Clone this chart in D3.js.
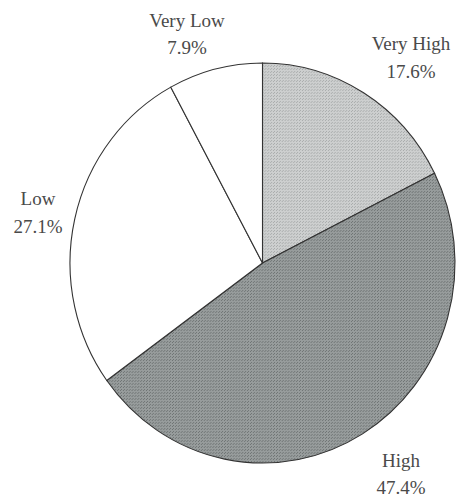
<!DOCTYPE html>
<html><head><meta charset="utf-8">
<script src="https://cdn.jsdelivr.net/npm/d3@7"></script>
<style>body{margin:0;background:#fff}svg{display:block}</style>
</head><body><svg id="c" width="459" height="499"></svg>
<script>
const categories = ["Very High", "High", "Low", "Very Low"];
const values = [17.6, 47.4, 27.1, 7.9];
const labels = ["17.6%", "47.4%", "27.1%", "7.9%"];
const fills = ["#c6c8c8", "#8f9494", "#ffffff", "#ffffff"];

const svg = d3.select("#c");
const defs = svg.append("defs");
// subtle stipple textures
function stipple(id, base, dot) {
  const p = defs.append("pattern").attr("id", id).attr("width", 3).attr("height", 3)
    .attr("patternUnits", "userSpaceOnUse");
  p.append("rect").attr("width", 3).attr("height", 3).attr("fill", base);
  p.append("rect").attr("x", 0).attr("y", 0).attr("width", 1).attr("height", 1).attr("fill", dot);
  p.append("rect").attr("x", 2).attr("y", 1).attr("width", 1).attr("height", 1).attr("fill", dot);
}
stipple("p0", "#cdcfcf", "#a9acac");
stipple("p1", "#979c9c", "#6f7474");
const patFill = ["url(#p0)", "url(#p1)", "#ffffff", "#ffffff"];

const cx = 262.5, cy = 263, R = 200, sx = 192.5 / 200;
const pie = d3.pie().sort(null).value(d => d)(values);
const arc = d3.arc().innerRadius(0).outerRadius(R);
const g = svg.append("g").attr("transform", `translate(${cx},${cy}) scale(${sx},1)`);
g.selectAll("path").data(pie).join("path")
  .attr("d", arc)
  .attr("fill", (d, i) => patFill[i])
  .attr("stroke", "#333")
  .attr("stroke-width", 1.1)
  .attr("vector-effect", "non-scaling-stroke");

// label positions (outside the pie)
const labelPos = [
  {x: 411, y1: 50, y2: 78},
  {x: 401, y1: 467, y2: 494},
  {x: 38, y1: 205, y2: 233},
  {x: 187, y1: 27, y2: 54}
];
const t = svg.append("g").attr("font-family", "'Liberation Serif', 'Times New Roman', serif")
  .attr("font-size", 19).attr("fill", "#4a4a4a").attr("text-anchor", "middle");
categories.forEach((c, i) => {
  t.append("text").attr("x", labelPos[i].x).attr("y", labelPos[i].y1).text(c);
  t.append("text").attr("x", labelPos[i].x).attr("y", labelPos[i].y2).text(labels[i]);
});
</script></body></html>
